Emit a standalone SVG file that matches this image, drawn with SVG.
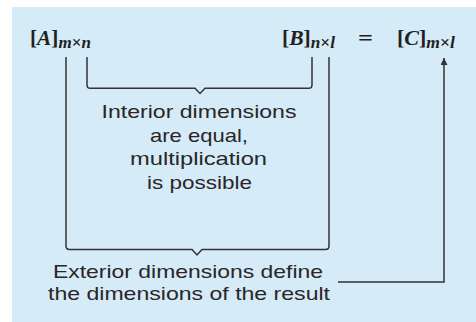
<svg xmlns="http://www.w3.org/2000/svg" width="476" height="322" viewBox="0 0 476 322">
<style>
.bg{fill:#d5ebf8}
.ln{fill:none;stroke:#333;stroke-width:1.5}
.hd{font-family:"Liberation Serif","Times New Roman",serif;font-weight:bold;font-size:20px;fill:#231f20}
.it{font-style:italic}
.sb{font-size:16px}
.bd{font-family:"Liberation Sans",Arial,sans-serif;font-size:19px;fill:#2a2627;text-anchor:middle}
</style>
<defs>
<marker id="ah" viewBox="0 0 10 10" refX="10" refY="5" markerWidth="10" markerHeight="7" markerUnits="userSpaceOnUse" orient="auto">
<path d="M0,0 L10,5 L0,10 z" fill="#333"/>
</marker>
</defs>
<rect class="bg" x="12" y="7" width="464" height="315"/>
<g id="matA">
<text class="hd" x="30" y="45" textLength="61" lengthAdjust="spacingAndGlyphs">[<tspan class="it">A</tspan>]<tspan class="sb it" dy="3">m</tspan><tspan class="sb">×</tspan><tspan class="sb it">n</tspan></text>
</g>
<g id="matB">
<text class="hd" x="282" y="45" textLength="53" lengthAdjust="spacingAndGlyphs">[<tspan class="it">B</tspan>]<tspan class="sb it" dy="3">n</tspan><tspan class="sb">×</tspan><tspan class="sb it">l</tspan></text>
</g>
<g id="equals">
<text class="hd" x="358" y="45" textLength="15" lengthAdjust="spacingAndGlyphs">=</text>
</g>
<g id="matC">
<text class="hd" x="397" y="45" textLength="58" lengthAdjust="spacingAndGlyphs">[<tspan class="it">C</tspan>]<tspan class="sb it" dy="3">m</tspan><tspan class="sb">×</tspan><tspan class="sb it">l</tspan></text>
</g>
<g id="interior">
<text class="bd" x="199" y="118" textLength="195" lengthAdjust="spacingAndGlyphs">Interior dimensions</text>
<text class="bd" x="199" y="141.5" textLength="98" lengthAdjust="spacingAndGlyphs">are equal,</text>
<text class="bd" x="198.5" y="165" textLength="137" lengthAdjust="spacingAndGlyphs">multiplication</text>
<text class="bd" x="199.5" y="188.5" textLength="105" lengthAdjust="spacingAndGlyphs">is possible</text>
</g>
<g id="exterior">
<text class="bd" x="188" y="278" textLength="270" lengthAdjust="spacingAndGlyphs">Exterior dimensions define</text>
<text class="bd" x="189" y="300" textLength="282" lengthAdjust="spacingAndGlyphs">the dimensions of the result</text>
</g>
<g id="connectors">
<path class="ln" d="M87,57 V85 Q87,88.3 90.3,88.3 H195 L200,93.5 L205,88.3 H308.7 Q312,88.3 312,85 V57"/>
<path class="ln" d="M66,57 V246 Q66,249.5 69.5,249.5 H192 L197,255 L202,249.5 H325.5 Q329,249.5 329,246 V57"/>
<path class="ln" d="M338,282 H444 V58" marker-end="url(#ah)"/>
</g>
</svg>
